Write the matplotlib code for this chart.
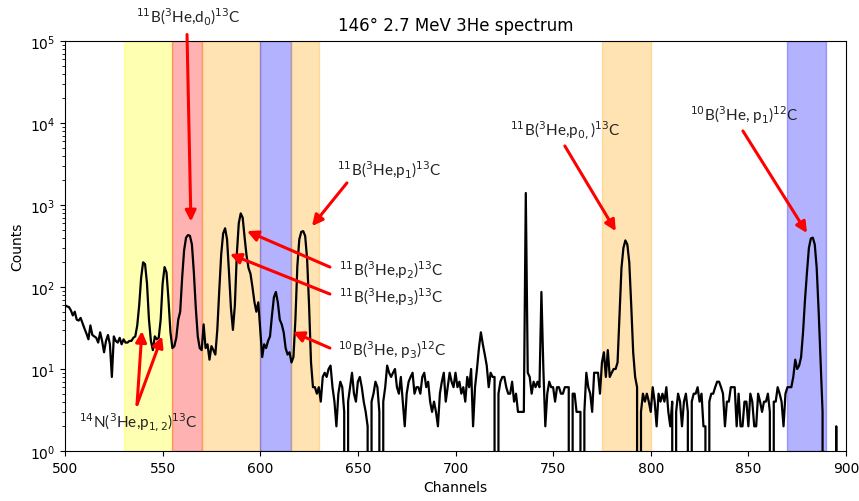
import matplotlib
matplotlib.use("Agg")
import matplotlib.pyplot as plt
import numpy as np

# spectrum: counts per channel, channels 500..899
channels = np.arange(500, 900)
counts = [
    60, 58, 57, 52, 45, 50, 40, 39, 42, 36,
    31, 27, 23, 34, 26, 25, 24, 21, 28, 22,
    16, 22, 26, 20, 8, 25, 22, 21, 24, 20,
    23, 21, 21, 22, 22, 24, 25, 34, 60, 130,
    200, 190, 110, 40, 22, 17, 25, 23, 24, 40,
    110, 175, 150, 70, 28, 18, 19, 24, 40, 50,
    130, 280, 400, 430, 420, 330, 150, 55, 25, 18,
    17, 35, 18, 20, 13, 19, 17, 15, 30, 90,
    250, 450, 520, 380, 150, 55, 30, 60, 250, 600,
    790, 700, 400, 240, 170, 145, 100, 66, 50, 65,
    30, 14, 20, 18, 22, 25, 45, 75, 87, 65,
    40, 35, 28, 18, 15, 16, 12, 14, 40, 180,
    380, 470, 480, 420, 220, 60, 12, 6, 6, 5,
    6, 4, 8, 9, 8, 10, 11, 6, 4, 2,
    5, 7, 6, 3, 0, 4, 6, 9, 5, 4,
    7, 8, 6, 4, 3, 2, 0, 4, 5, 7,
    6, 3, 0, 4, 6, 11, 9, 8, 9, 10,
    6, 5, 8, 4, 2, 5, 7, 8, 9, 5,
    6, 6, 5, 8, 9, 6, 7, 4, 3, 4,
    3, 2, 5, 7, 9, 4, 6, 9, 7, 6,
    9, 6, 7, 5, 6, 4, 8, 6, 10, 2,
    6, 10, 18, 28, 20, 15, 11, 6, 9, 8,
    8, 0, 5, 7, 8, 8, 6, 5, 5, 7,
    4, 5, 3, 3, 3, 3, 1400, 9, 8, 5,
    7, 6, 7, 6, 87, 10, 2, 5, 7, 6,
    6, 4, 6, 6, 5, 5, 6, 6, 6, 0,
    5, 5, 3, 3, 3, 0, 3, 9, 6, 5,
    3, 9, 9, 9, 5, 12, 16, 8, 17, 8,
    9, 10, 10, 12, 45, 170, 300, 370, 330, 200,
    60, 16, 8, 6, 0, 3, 5, 4, 5, 4,
    3, 6, 4, 2, 5, 4, 5, 4, 6, 3,
    2, 4, 0, 3, 5, 4, 2, 4, 5, 3,
    0, 4, 5, 5, 6, 4, 5, 2, 2, 0,
    4, 5, 5, 6, 7, 7, 6, 5, 2, 4,
    4, 6, 6, 6, 2, 5, 2, 2, 4, 4,
    2, 5, 4, 2, 2, 5, 4, 3, 4, 4,
    5, 3, 0, 4, 4, 6, 5, 4, 2, 5,
    6, 6, 6, 8, 13, 10, 11, 14, 28, 70,
    150, 300, 390, 400, 330, 170, 50, 12, 3, 0,
    0, 0, 0, 0, 0, 2, 0, 0, 0, 0,
]

# shaded channel windows
band_lo = [530, 555, 570, 600, 616, 775, 870]
band_hi = [555, 570, 600, 616, 630, 800, 890]
band_col = ['yellow', 'red', 'orange', 'blue', 'orange', 'orange', 'blue']

# reaction labels: text position, arrow tails and tips (channel, counts)
labels = [
    r'$^{11}$B($^3$He,d$_0$)$^{13}$C',
    r'$^{11}$B($^3$He,p$_1$)$^{13}$C',
    r'$^{11}$B($^3$He,p$_2$)$^{13}$C',
    r'$^{11}$B($^3$He,p$_3$)$^{13}$C',
    r'$^{10}$B($^3$He, p$_3$)$^{12}$C',
    r'$^{14}$N($^3$He,p$_{1,2}$)$^{13}$C',
    r'$^{11}$B($^3$He,p$_{0,}$)$^{13}$C',
    r'$^{10}$B($^3$He, p$_1$)$^{12}$C',
]
label_x = [563, 666, 667, 667, 667.5, 537.5, 756, 848]
label_y = [2.0e5, 2750, 166, 78, 17.5, 2.3, 8450, 12900]

arrow_tail = [(562.5, 1.2e5), (644.4, 1860), (635.7, 175), (635.7, 82),
              (635.7, 18), (536.9, 3.7), (536.9, 3.7), (756, 5250), (847.2, 8000)]
arrow_tip = [(564.5, 630), (626.5, 553), (593.2, 480), (584.5, 252),
             (616.7, 28.3), (539.4, 29), (549.7, 25), (782.1, 480), (880, 455)]

fig = plt.figure(figsize=(8.59, 5.02), dpi=100)
ax = fig.add_axes([65/859, 50/502, 781/859, 410/502])

for lo, hi, c in zip(band_lo, band_hi, band_col):
    ax.axvspan(lo, hi, color=c, alpha=0.3, zorder=0)

ax.plot(channels, counts, color='black', lw=1.6, zorder=2)

ax.set_yscale('log')
ax.set_xlim(500, 900)
ax.set_ylim(1, 1e5)
ax.set_xlabel('Channels')
ax.set_ylabel('Counts')
ax.set_title('146° 2.7 MeV 3He spectrum', pad=8)

for lab, x, y in zip(labels, label_x, label_y):
    ax.text(x, y, lab, ha='center', va='center', fontsize=11,
            family='Lato', color='#222222', clip_on=False, zorder=5)

for tail, tip in zip(arrow_tail, arrow_tip):
    ax.annotate('', xy=tip, xytext=tail, annotation_clip=False,
                arrowprops=dict(arrowstyle='-|>', color='red', lw=2.2,
                                mutation_scale=16, shrinkA=0, shrinkB=0),
                zorder=4)

fig.savefig('out.png', dpi=100)
